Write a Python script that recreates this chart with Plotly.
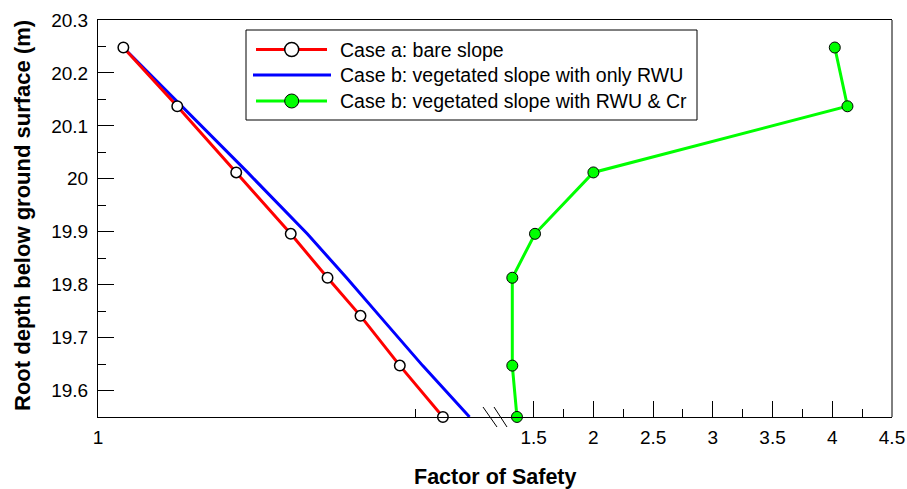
import plotly.graph_objects as go

# Root depth below ground surface (m)
depth = [20.248, 20.137, 20.012, 19.896, 19.813, 19.741, 19.647, 19.55]
depth_cr = [20.248, 20.137, 20.012, 19.896, 19.813, 19.647, 19.55]

# Factor of safety for each case
fos_bare = [1.020, 1.0625, 1.109, 1.152, 1.181, 1.207, 1.238, 1.272]
fos_rwu = [1.020, 1.066, 1.118, 1.165, 1.196, 1.222, 1.256, 1.293]
fos_cr = [4.021, 4.127, 2.000, 1.511, 1.321, 1.321, 1.360]

names = [
    "Case a: bare slope",
    "Case b: vegetated slope with only RWU",
    "Case b: vegetated slope with RWU & Cr",
]

# Axis ticks
y_ticks = [19.6, 19.7, 19.8, 19.9, 20.0, 20.1, 20.2, 20.3]
y_tick_text = ["19.6", "19.7", "19.8", "19.9", "20", "20.1", "20.2", "20.3"]
y_minor = [19.65, 19.75, 19.85, 19.95, 20.05, 20.15, 20.25]
x1_ticks = [1.0]
x1_tick_text = ["1"]
x1_minor = [1.25]
x2_ticks = [1.5, 2.0, 2.5, 3.0, 3.5, 4.0, 4.5]
x2_tick_text = ["1.5", "2", "2.5", "3", "3.5", "4", "4.5"]
x2_minor = [1.75, 2.25, 2.75, 3.25, 3.75, 4.25]

FONT = "Arial, 'Liberation Sans', sans-serif"
GREEN = "#00ff00"
W, H = 907, 489
L, R, T, B = 98, 892, 20, 417  # plot area in pixels


def px(x):
    return (x - L) / (R - L)


def py(y):
    return (B - y) / (B - T)


split = px(492)

fig = go.Figure()

fig.add_trace(go.Scatter(
    x=fos_rwu, y=depth, mode="lines", name=names[1],
    line=dict(color="#0000ff", width=3), xaxis="x", yaxis="y",
    showlegend=False,
))
fig.add_trace(go.Scatter(
    x=fos_bare, y=depth, mode="lines+markers", name=names[0],
    line=dict(color="#ff0000", width=3),
    marker=dict(symbol="circle", size=10.5, color="white",
                line=dict(color="black", width=1.5)),
    cliponaxis=False, xaxis="x", yaxis="y", showlegend=False,
))
fig.add_trace(go.Scatter(
    x=fos_cr, y=depth_cr, mode="lines+markers", name=names[2],
    line=dict(color=GREEN, width=3),
    marker=dict(symbol="circle", size=11, color=GREEN,
                line=dict(color="black", width=1)),
    cliponaxis=False, xaxis="x2", yaxis="y", showlegend=False,
))

tick_font = dict(family=FONT, size=19, color="black")
common_x = dict(
    showline=True, linecolor="black", linewidth=1, mirror=True,
    ticks="inside", ticklen=16, tickwidth=1, tickcolor="black",
    showgrid=False, zeroline=False, tickfont=tick_font,
    ticklabelstandoff=3, anchor="y", automargin=False,
)

fig.update_layout(
    width=W, height=H,
    margin=dict(l=L, r=W - R, t=T, b=H - B, autoexpand=False),
    paper_bgcolor="white", plot_bgcolor="white",
    xaxis=dict(
        domain=[0, split], range=[1.0, 1.3107],
        tickmode="array", tickvals=x1_ticks, ticktext=x1_tick_text,
        minor=dict(tickvals=x1_minor, ticks="inside", ticklen=8,
                   tickcolor="black", tickwidth=1),
        **common_x,
    ),
    xaxis2=dict(
        domain=[split, 1], range=[1.151, 4.5],
        tickmode="array", tickvals=x2_ticks, ticktext=x2_tick_text,
        minor=dict(tickvals=x2_minor, ticks="inside", ticklen=8,
                   tickcolor="black", tickwidth=1),
        **common_x,
    ),
    yaxis=dict(
        range=[19.5499, 20.3], showline=True, linecolor="black", linewidth=1,
        ticks="inside", ticklen=16, tickwidth=1, tickcolor="black",
        tickmode="array", tickvals=y_ticks, ticktext=y_tick_text,
        minor=dict(tickvals=y_minor, ticks="inside", ticklen=8,
                   tickcolor="black", tickwidth=1),
        showgrid=False, zeroline=False, tickfont=tick_font,
        ticklabelstandoff=5, anchor="x", automargin=False,
    ),
    showlegend=False,
)

shapes = []
annotations = []

# Frame on the right side of the plot area
shapes.append(dict(type="line", xref="paper", yref="paper",
                   x0=1, x1=1, y0=0, y1=1,
                   line=dict(color="black", width=1)))

# Axis break marks
for x0, x1 in [(483, 497), (494, 507)]:
    shapes.append(dict(type="line", xref="paper", yref="paper",
                       x0=px(x0), x1=px(x1), y0=py(407), y1=py(427),
                       line=dict(color="black", width=1)))

# Legend box
shapes.append(dict(type="rect", xref="paper", yref="paper",
                   x0=px(246), x1=px(697), y0=py(30), y1=py(120),
                   line=dict(color="black", width=1), fillcolor="white",
                   layer="above"))

legend_rows = [
    (49.5, "#ff0000", (256, 327), "white", 1.5),
    (75.0, "#0000ff", (253, 331), None, 0),
    (101.0, GREEN, (256, 327), GREEN, 1),
]
for (yrow, color, (xa, xb), fill, lw), label in zip(legend_rows, names):
    shapes.append(dict(type="line", xref="paper", yref="paper",
                       x0=px(xa), x1=px(xb), y0=py(yrow), y1=py(yrow),
                       line=dict(color=color, width=3), layer="above"))
    if fill is not None:
        shapes.append(dict(type="circle", xref="paper", yref="paper",
                           xsizemode="pixel", ysizemode="pixel",
                           xanchor=px(291.7), yanchor=py(yrow),
                           x0=-7, x1=7, y0=-7, y1=7,
                           fillcolor=fill, layer="above",
                           line=dict(color="black", width=lw)))
    annotations.append(dict(
        xref="paper", yref="paper", x=px(338), y=py(yrow),
        xanchor="left", yanchor="middle", showarrow=False,
        text=label, font=dict(family=FONT, size=19.5, color="black"),
    ))

# Axis titles
annotations.append(dict(
    xref="paper", yref="paper", x=0.5, y=py(477),
    xanchor="center", yanchor="middle", showarrow=False,
    text="<b>Factor of Safety</b>",
    font=dict(family=FONT, size=21.5, color="black"),
))
annotations.append(dict(
    xref="paper", yref="paper", x=px(22), y=py(216),
    xanchor="center", yanchor="middle", showarrow=False, textangle=-90,
    text="<b>Root depth below ground surface (m)</b>",
    font=dict(family=FONT, size=22, color="black"),
))

fig.update_layout(shapes=shapes, annotations=annotations)

fig.write_html("out.html")
